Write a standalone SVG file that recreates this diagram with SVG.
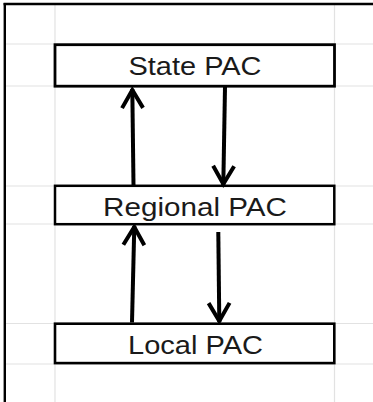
<svg xmlns="http://www.w3.org/2000/svg" width="373" height="402" viewBox="0 0 373 402">
<style>
.grid{stroke:#e2e2e2;stroke-width:1.2;fill:none}
.frame{stroke:#000;stroke-width:2.4;fill:none}
.box{fill:#fff;stroke:#000;stroke-width:2.8}
.lbl{font-family:"Liberation Sans",Arial,sans-serif;font-size:25.5px;fill:#1a1a1a;text-anchor:middle}
.conn{stroke:#000;stroke-width:4;fill:none;stroke-linecap:butt}
</style>
<defs>
<marker id="ah" markerUnits="userSpaceOnUse" orient="auto" markerWidth="30" markerHeight="30" viewBox="-22 -15 26 30" refX="1" refY="0">
<path d="M-18,-10.5 L0,0 L-18,10.5" fill="none" stroke="#000" stroke-width="4" stroke-linejoin="miter"/>
</marker>
</defs>
<g id="grid">
<line class="grid" x1="55" y1="4" x2="55" y2="402"/>
<line class="grid" x1="334.5" y1="4" x2="334.5" y2="402"/>
<line class="grid" x1="5" y1="44" x2="373" y2="44"/>
<line class="grid" x1="5" y1="86" x2="373" y2="86"/>
<line class="grid" x1="5" y1="186" x2="373" y2="186"/>
<line class="grid" x1="5" y1="224" x2="373" y2="224"/>
<line class="grid" x1="5" y1="323.5" x2="373" y2="323.5"/>
<line class="grid" x1="5" y1="364" x2="373" y2="364"/>
</g>
<g id="frame">
<line class="frame" x1="3.6" y1="4" x2="373" y2="4"/>
<line class="frame" x1="4.8" y1="3" x2="4.8" y2="402"/>
</g>
<g id="state">
<rect class="box" x="55" y="44.7" width="279.5" height="41.5"/>
<text class="lbl" x="195" y="75" textLength="133" lengthAdjust="spacingAndGlyphs">State PAC</text>
</g>
<g id="regional">
<rect class="box" x="55" y="185.8" width="279.3" height="38.4" style="stroke-width:2.5"/>
<text class="lbl" x="195" y="215.5" textLength="184" lengthAdjust="spacingAndGlyphs">Regional PAC</text>
</g>
<g id="local">
<rect class="box" x="55" y="323.7" width="279.3" height="39.4" style="stroke-width:2.6"/>
<text class="lbl" x="195.5" y="354" textLength="135" lengthAdjust="spacingAndGlyphs">Local PAC</text>
</g>
<g id="connectors">
<line class="conn" x1="133.5" y1="185" x2="132.3" y2="89" marker-end="url(#ah)"/>
<line class="conn" x1="225" y1="87" x2="223.3" y2="185" marker-end="url(#ah)"/>
<line class="conn" x1="132" y1="322.5" x2="134.3" y2="226" marker-end="url(#ah)"/>
<line class="conn" x1="218.3" y1="232" x2="219.3" y2="322" marker-end="url(#ah)"/>
</g>
</svg>
